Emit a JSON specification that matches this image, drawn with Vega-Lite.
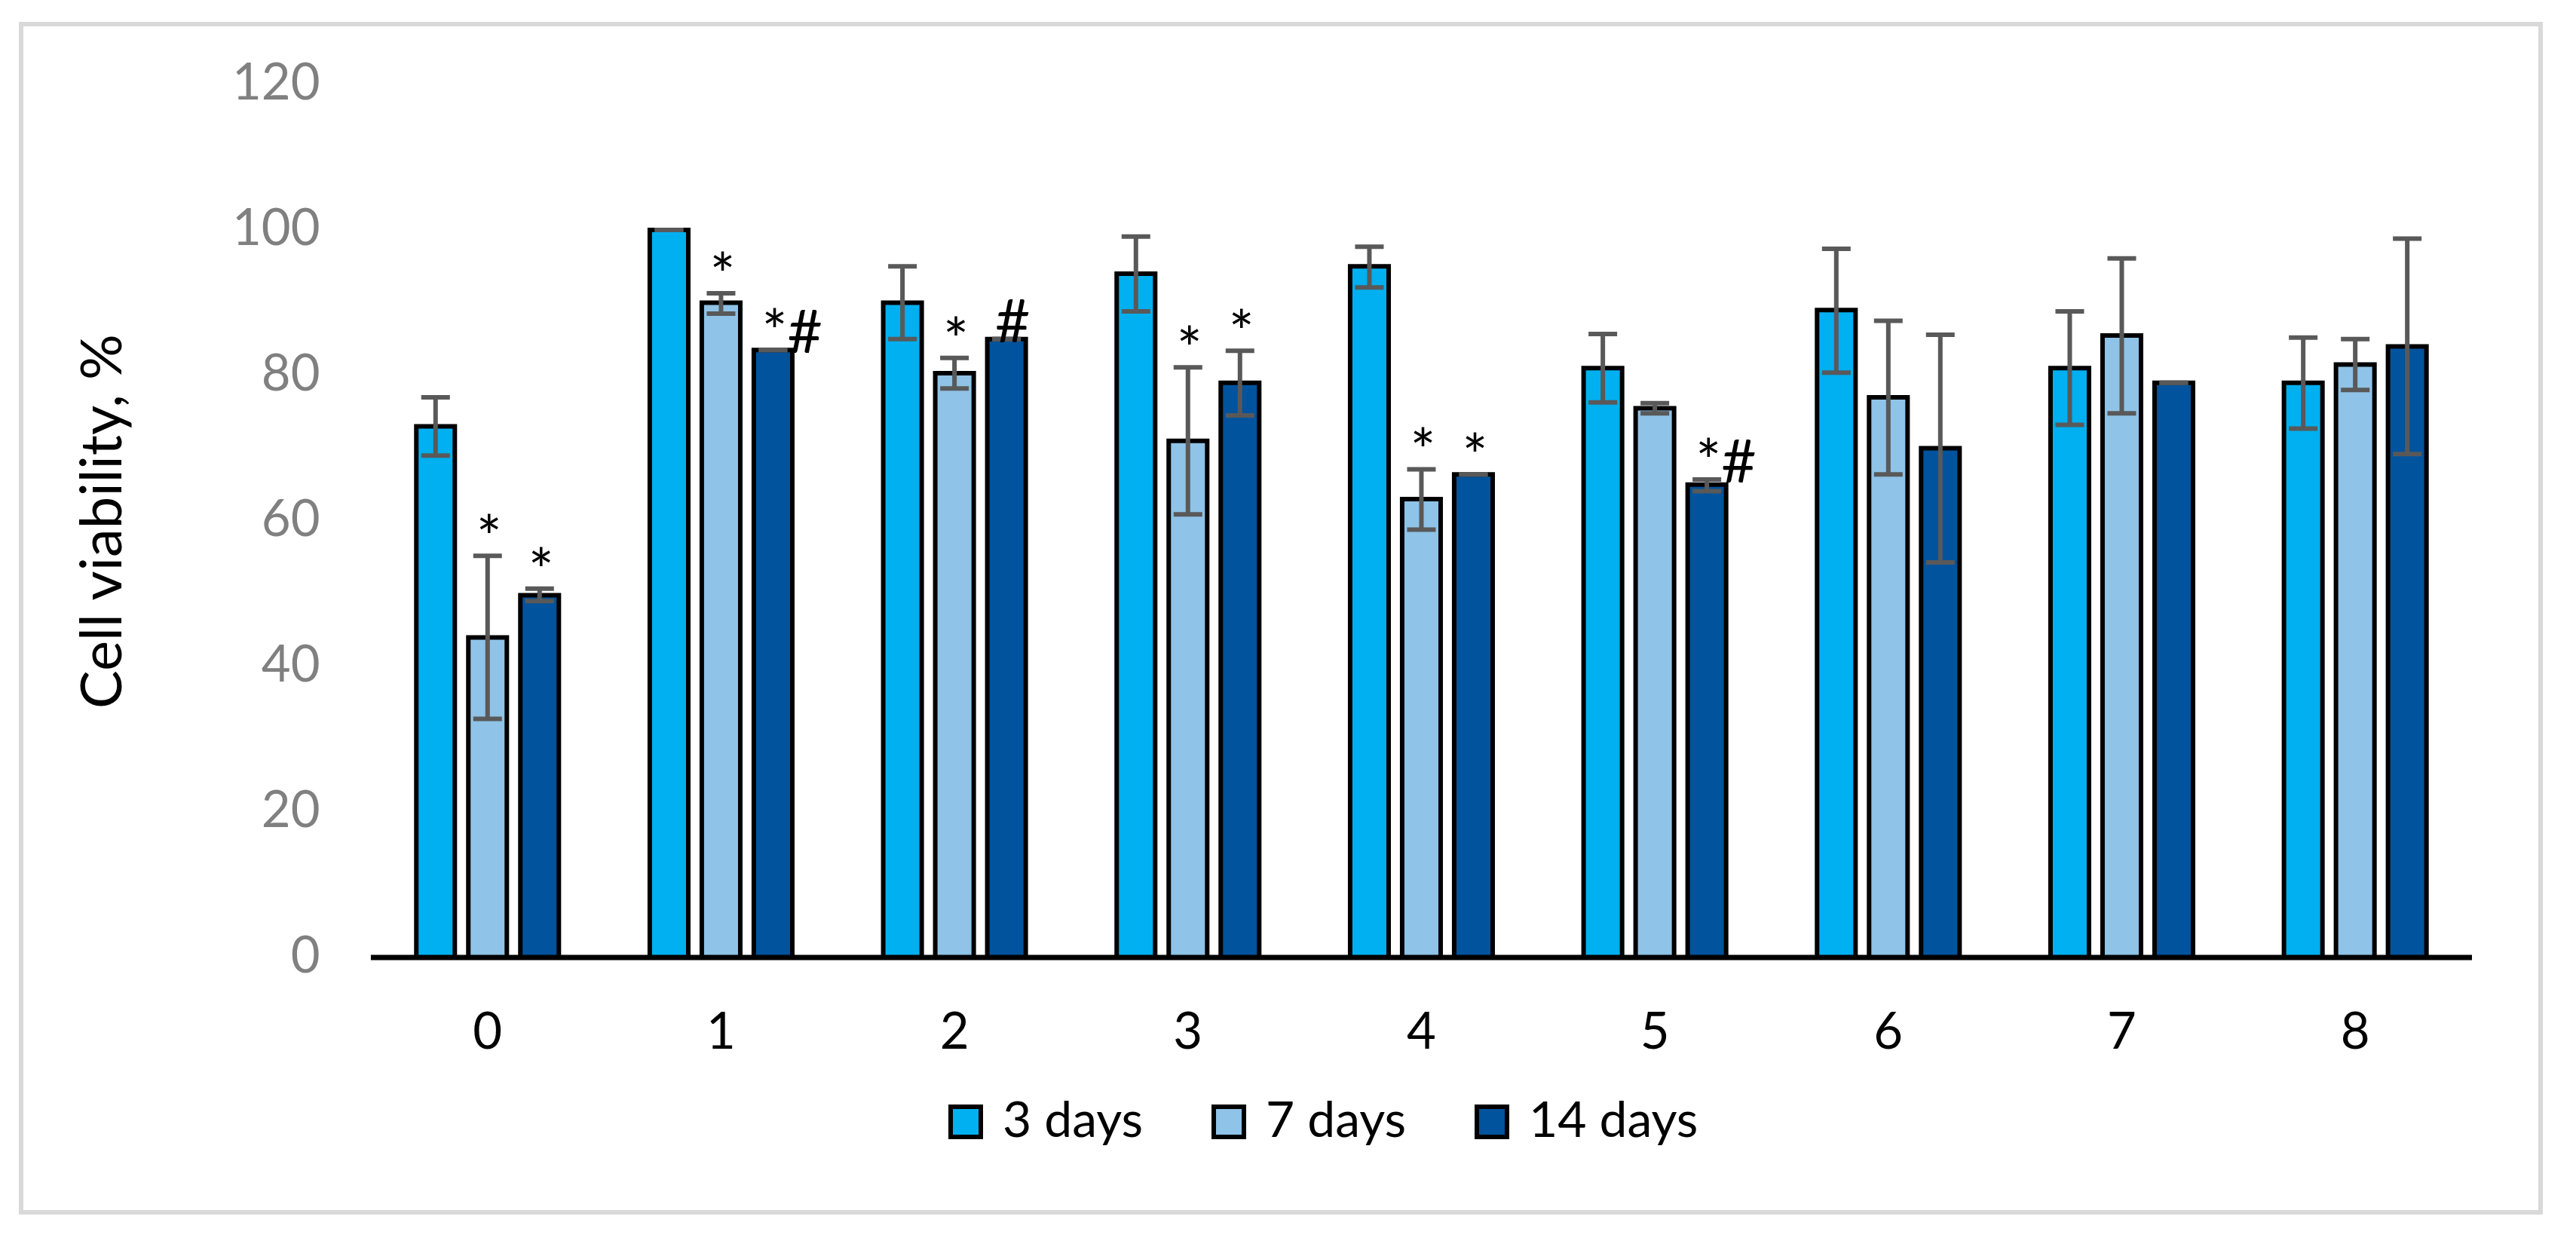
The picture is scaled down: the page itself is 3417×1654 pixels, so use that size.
{
  "$schema": "https://vega.github.io/schema/vega-lite/v6.json",
  "width": 3342,
  "height": 1576,
  "autosize": {"type": "none"},
  "padding": {"left": 28, "top": 32, "right": 47, "bottom": 46},
  "background": "white",
  "config": {
    "font": "Lato",
    "view": {"stroke": "#D9D9D9", "strokeWidth": 6},
    "axis": {"grid": false, "ticks": false, "tickSize": 0, "domain": false},
    "axisX": {"offset": -338, "labelAngle": 0, "labelFontSize": 67, "labelColor": "#000000", "labelPadding": 67},
    "axisY": {
      "offset": -464,
      "labelFontSize": 67,
      "labelColor": "#808080",
      "labelPadding": 68,
      "titleFontSize": 76,
      "titleFontWeight": "normal",
      "titleColor": "#000000",
      "titleX": -316,
      "titleY": 659,
      "titleBaseline": "bottom",
      "titleAngle": 270
    }
  },
  "datasets": {
    "bars": [
      {"group": "0", "series": "3 days", "value": 73, "lo": 69, "hi": 77, "label": ""},
      {"group": "0", "series": "7 days", "value": 44, "lo": 32.8, "hi": 55.2, "label": "*"},
      {"group": "0", "series": "14 days", "value": 49.8, "lo": 49, "hi": 50.7, "label": "*"},
      {"group": "1", "series": "3 days", "value": 100, "lo": 100, "hi": 100, "label": ""},
      {"group": "1", "series": "7 days", "value": 90, "lo": 88.5, "hi": 91.3, "label": "*"},
      {"group": "1", "series": "14 days", "value": 83.5, "lo": 83.5, "hi": 83.5, "label": "*#"},
      {"group": "2", "series": "3 days", "value": 90, "lo": 85, "hi": 95, "label": ""},
      {"group": "2", "series": "7 days", "value": 80.3, "lo": 78.2, "hi": 82.4, "label": "*"},
      {"group": "2", "series": "14 days", "value": 85, "lo": 85, "hi": 85, "label": "#"},
      {"group": "3", "series": "3 days", "value": 94, "lo": 88.8, "hi": 99.1, "label": ""},
      {"group": "3", "series": "7 days", "value": 71, "lo": 60.9, "hi": 81.1, "label": "*"},
      {"group": "3", "series": "14 days", "value": 79, "lo": 74.5, "hi": 83.4, "label": "*"},
      {"group": "4", "series": "3 days", "value": 95, "lo": 92.1, "hi": 97.7, "label": ""},
      {"group": "4", "series": "7 days", "value": 63, "lo": 58.8, "hi": 67.1, "label": "*"},
      {"group": "4", "series": "14 days", "value": 66.4, "lo": 66.4, "hi": 66.4, "label": "*"},
      {"group": "5", "series": "3 days", "value": 81, "lo": 76.3, "hi": 85.7, "label": ""},
      {"group": "5", "series": "7 days", "value": 75.5, "lo": 74.8, "hi": 76.2, "label": ""},
      {"group": "5", "series": "14 days", "value": 65, "lo": 64.1, "hi": 65.7, "label": "*#"},
      {"group": "6", "series": "3 days", "value": 89, "lo": 80.4, "hi": 97.4, "label": ""},
      {"group": "6", "series": "7 days", "value": 77, "lo": 66.4, "hi": 87.5, "label": ""},
      {"group": "6", "series": "14 days", "value": 70, "lo": 54.3, "hi": 85.6, "label": ""},
      {"group": "7", "series": "3 days", "value": 81, "lo": 73.2, "hi": 88.8, "label": ""},
      {"group": "7", "series": "7 days", "value": 85.5, "lo": 74.8, "hi": 96.1, "label": ""},
      {"group": "7", "series": "14 days", "value": 79, "lo": 79, "hi": 79, "label": ""},
      {"group": "8", "series": "3 days", "value": 79, "lo": 72.7, "hi": 85.2, "label": ""},
      {"group": "8", "series": "7 days", "value": 81.5, "lo": 78, "hi": 85, "label": ""},
      {"group": "8", "series": "14 days", "value": 84, "lo": 69.2, "hi": 98.8, "label": ""}
    ],
    "base": [{"start": "0", "end": "8"}]
  },
  "encoding": {
    "x": {
      "field": "group",
      "type": "nominal",
      "title": null,
      "scale": {"domain": ["0", "1", "2", "3", "4", "5", "6", "7", "8"], "paddingInner": 0, "paddingOuter": 0.896, "align": 0.836}
    },
    "xOffset": {
      "field": "series",
      "type": "nominal",
      "scale": {"domain": ["3 days", "7 days", "14 days"], "paddingInner": 0.26, "paddingOuter": 0.874}
    }
  },
  "layer": [
    {
      "data": {"name": "bars"},
      "mark": {"type": "bar", "stroke": "#000000", "strokeWidth": 6},
      "encoding": {
        "y": {
          "field": "value",
          "type": "quantitative",
          "title": "Cell viability, %",
          "scale": {"domain": [-35.03, 128.29], "nice": false, "zero": false},
          "axis": {"values": [0, 20, 40, 60, 80, 100, 120]}
        },
        "y2": {"datum": 0},
        "color": {
          "field": "series",
          "type": "nominal",
          "scale": {"domain": ["3 days", "7 days", "14 days"], "range": ["#00B0F0", "#8FC3E7", "#00539C"]},
          "legend": {
            "orient": "none",
            "legendX": 1220,
            "legendY": 1423,
            "direction": "horizontal",
            "title": null,
            "labelFontSize": 66,
            "labelColor": "#000000",
            "labelLimit": 0,
            "symbolType": "square",
            "symbolSize": 1600,
            "symbolStrokeColor": "#000000",
            "symbolStrokeWidth": 6,
            "symbolOpacity": 1,
            "labelOffset": 16,
            "gridAlign": "all",
            "columnPadding": 42,
            "padding": 0
          }
        }
      }
    },
    {
      "data": {"name": "base"},
      "mark": {"type": "rule", "color": "#000000", "strokeWidth": 7},
      "encoding": {
        "x": {"field": "start", "type": "nominal", "bandPosition": 0, "title": null,
              "scale": {"domain": ["0", "1", "2", "3", "4", "5", "6", "7", "8"], "paddingInner": 0, "paddingOuter": 0.896, "align": 0.836}},
        "x2": {"field": "end", "bandPosition": 1},
        "xOffset": null,
        "y": {"datum": 0, "type": "quantitative", "title": "Cell viability, %", "axis": {"values": [0, 20, 40, 60, 80, 100, 120]}, "scale": {"domain": [-35.03, 128.29], "nice": false, "zero": false}}
      }
    },
    {
      "data": {"name": "bars"},
      "mark": {"type": "rule", "color": "#595959", "strokeWidth": 6},
      "encoding": {
        "y": {"field": "lo", "type": "quantitative", "title": "Cell viability, %", "axis": {"values": [0, 20, 40, 60, 80, 100, 120]}, "scale": {"domain": [-35.03, 128.29], "nice": false, "zero": false}},
        "y2": {"field": "hi"}
      }
    },
    {
      "data": {"name": "bars"},
      "mark": {"type": "tick", "orient": "horizontal", "color": "#595959", "opacity": 1, "thickness": 6, "size": 38},
      "encoding": {
        "y": {"field": "lo", "type": "quantitative", "title": "Cell viability, %", "axis": {"values": [0, 20, 40, 60, 80, 100, 120]}, "scale": {"domain": [-35.03, 128.29], "nice": false, "zero": false}}
      }
    },
    {
      "data": {"name": "bars"},
      "mark": {"type": "tick", "orient": "horizontal", "color": "#595959", "opacity": 1, "thickness": 6, "size": 38},
      "encoding": {
        "y": {"field": "hi", "type": "quantitative", "title": "Cell viability, %", "axis": {"values": [0, 20, 40, 60, 80, 100, 120]}, "scale": {"domain": [-35.03, 128.29], "nice": false, "zero": false}}
      }
    },
    {
      "data": {"name": "bars"},
      "mark": {"type": "text", "align": "left", "baseline": "alphabetic", "dx": -15, "dy": 4, "fontSize": 80, "color": "#000000"},
      "encoding": {
        "y": {"field": "hi", "type": "quantitative", "title": "Cell viability, %", "axis": {"values": [0, 20, 40, 60, 80, 100, 120]}, "scale": {"domain": [-35.03, 128.29], "nice": false, "zero": false}},
        "text": {"field": "label"}
      }
    }
  ]
}
